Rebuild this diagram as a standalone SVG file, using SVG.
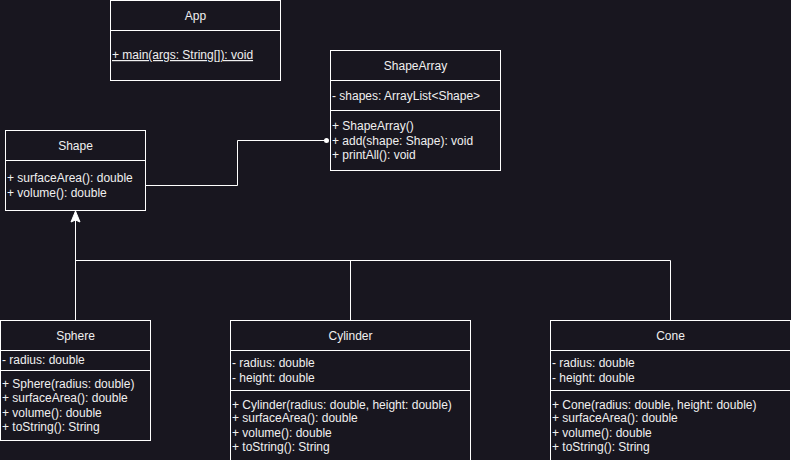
<svg xmlns="http://www.w3.org/2000/svg" width="791" height="460" viewBox="0 0 791 460">
<defs>
<style>
.box{fill:#18161f;stroke:#ffffff;stroke-width:1}
.ln{stroke:#ffffff;stroke-width:1;fill:none}
text{font-family:"Liberation Sans",Arial,Helvetica,sans-serif;font-size:12px;fill:#f0f0f0}
.t{text-anchor:middle}
.u{text-decoration:underline}
</style>
</defs>
<rect x="0" y="0" width="791" height="460" fill="#18161f"/>
<g id="connectors">
<polyline class="ln" points="145.5,185.5 237.5,185.5 237.5,140.5 326,140.5"/>
<circle cx="326.5" cy="140.5" r="2.5" fill="#ffffff"/>
<polyline class="ln" points="75.5,320 75.5,218"/>
<polygon points="75.5,211 80,222 75.5,220 71,222" fill="#ffffff" stroke="#ffffff" stroke-width="1"/>
<polyline class="ln" points="75.5,260.5 670.5,260.5"/>
<line class="ln" x1="350.5" y1="260.5" x2="350.5" y2="320.5"/>
<line class="ln" x1="670.5" y1="260.5" x2="670.5" y2="320.5"/>
</g>
<g id="App">
<rect class="box" x="110.5" y="0.5" width="170" height="80"/>
<line class="ln" x1="110.5" y1="30.5" x2="280.5" y2="30.5"/>
<text class="t" x="195.5" y="19.5">App</text>
<text class="u" x="112" y="59">+ main(args: String[]): void</text>
</g>
<g id="ShapeArray">
<rect class="box" x="330.5" y="50.5" width="170" height="120"/>
<line class="ln" x1="330.5" y1="80.5" x2="500.5" y2="80.5"/>
<line class="ln" x1="330.5" y1="110.5" x2="500.5" y2="110.5"/>
<text class="t" x="415.5" y="69.5">ShapeArray</text>
<text x="332" y="99.5">- shapes: ArrayList&lt;Shape&gt;</text>
<text x="332" y="130">+ ShapeArray()</text>
<text x="332" y="144.5">+ add(shape: Shape): void</text>
<text x="332" y="159">+ printAll(): void</text>
</g>
<g id="Shape">
<rect class="box" x="5.5" y="130.5" width="140" height="80"/>
<line class="ln" x1="5.5" y1="160.5" x2="145.5" y2="160.5"/>
<text class="t" x="75.5" y="149.5">Shape</text>
<text x="7" y="182">+ surfaceArea(): double</text>
<text x="7" y="196.5">+ volume(): double</text>
</g>
<g id="Sphere">
<rect class="box" x="0.5" y="320.5" width="150" height="120"/>
<line class="ln" x1="0.5" y1="350.5" x2="150.5" y2="350.5"/>
<line class="ln" x1="0.5" y1="370.5" x2="150.5" y2="370.5"/>
<text class="t" x="75.5" y="339.5">Sphere</text>
<text x="2" y="364">- radius: double</text>
<text x="2" y="387.5">+ Sphere(radius: double)</text>
<text x="2" y="401.5">+ surfaceArea(): double</text>
<text x="2" y="416.5">+ volume(): double</text>
<text x="2" y="431">+ toString(): String</text>
</g>
<g id="Cylinder">
<rect class="box" x="230.5" y="320.5" width="240" height="150"/>
<line class="ln" x1="230.5" y1="350.5" x2="470.5" y2="350.5"/>
<line class="ln" x1="230.5" y1="390.5" x2="470.5" y2="390.5"/>
<text class="t" x="350.5" y="339.5">Cylinder</text>
<text x="232" y="367">- radius: double</text>
<text x="232" y="381.5">- height: double</text>
<text x="232" y="408.5">+ Cylinder(radius: double, height: double)</text>
<text x="232" y="422">+ surfaceArea(): double</text>
<text x="232" y="437">+ volume(): double</text>
<text x="232" y="451">+ toString(): String</text>
</g>
<g id="Cone">
<rect class="box" x="550.5" y="320.5" width="240" height="150"/>
<line class="ln" x1="550.5" y1="350.5" x2="790.5" y2="350.5"/>
<line class="ln" x1="550.5" y1="390.5" x2="790.5" y2="390.5"/>
<text class="t" x="670.5" y="339.5">Cone</text>
<text x="552" y="367">- radius: double</text>
<text x="552" y="381.5">- height: double</text>
<text x="552" y="408.5">+ Cone(radius: double, height: double)</text>
<text x="552" y="422">+ surfaceArea(): double</text>
<text x="552" y="437">+ volume(): double</text>
<text x="552" y="451">+ toString(): String</text>
</g>
</svg>
